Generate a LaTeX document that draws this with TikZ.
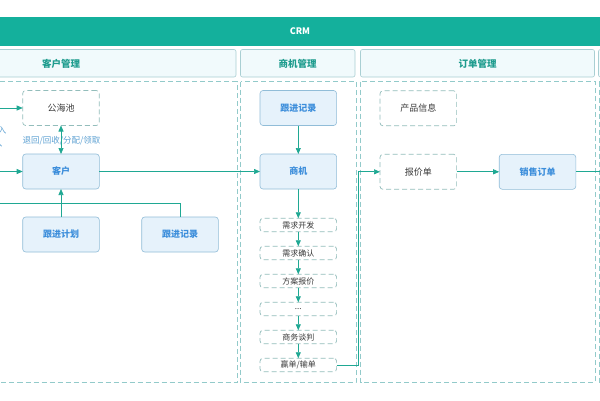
\documentclass[tikz,border=0pt]{standalone}
\usepackage{fontspec}
\setmainfont{Noto Sans CJK SC}
\usetikzlibrary{arrows.meta}
\definecolor{bar}{HTML}{14B09C}
\definecolor{hdrfill}{HTML}{F1FAFC}
\definecolor{hdrdraw}{HTML}{A9CFD3}
\definecolor{hdrtext}{HTML}{1E9C8E}
\definecolor{contdraw}{HTML}{92CACA}
\definecolor{sfill}{HTML}{E6F2FB}
\definecolor{sdraw}{HTML}{91BDD8}
\definecolor{stext}{HTML}{3C8EDB}
\definecolor{ddraw}{HTML}{93BDBB}
\definecolor{dtext}{HTML}{3A3A3A}
\definecolor{conn}{HTML}{1FA893}
\definecolor{lbl}{HTML}{5FA2D3}
\tikzset{
  hdr/.style={draw=hdrdraw, fill=hdrfill, rounded corners=2pt, line width=0.6pt},
  hdrtxt/.style={text=hdrtext, font=\fontsize{9.5}{11}\selectfont\bfseries},
  cont/.style={draw=contdraw, line width=0.7pt, dash pattern=on 5pt off 3pt},
  solidbox/.style={draw=sdraw, fill=sfill, rounded corners=3pt, line width=0.6pt,
    text=stext, font=\fontsize{9}{11}\selectfont\bfseries,
    minimum width=76.6pt, minimum height=35pt, inner sep=0pt, outer sep=0pt},
  dbox/.style={draw=ddraw, rounded corners=3pt, line width=0.7pt, dash pattern=on 5pt off 3pt,
    text=dtext, font=\fontsize{9}{11}\selectfont,
    minimum width=76.6pt, minimum height=35pt, inner sep=0pt, outer sep=0pt},
  sbox/.style={draw=ddraw, rounded corners=3pt, line width=0.7pt, dash pattern=on 5pt off 3pt,
    text=dtext, font=\fontsize{8}{9}\selectfont,
    minimum width=76.6pt, minimum height=13.5pt, inner sep=0pt, outer sep=0pt},
  conline/.style={draw=conn, line width=0.7pt},
  arr/.style={conline, -{Triangle[length=6pt,width=5pt]}},
  darr/.style={conline, {Triangle[length=6pt,width=5pt]}-{Triangle[length=6pt,width=5pt]}},
}
\begin{document}
\begin{tikzpicture}[x=1pt,y=-1pt]
\useasboundingbox[fill=white] (0,0) rectangle (600,400);
% top bar
\fill[bar] (-5,17) rectangle (605,45.5);
\node[text=white, font=\fontsize{9}{10}\selectfont\bfseries] (crm) at (300,31.3) {CRM};
% headers
\draw[hdr] (-60,49.5) rectangle (236,77);
\draw[hdr] (240.5,49.5) rectangle (355,77);
\draw[hdr] (360.5,49.5) rectangle (594.5,77);
\draw[hdr] (598.5,49.5) rectangle (700,77);
\node[hdrtxt] (h1) at (61,63.5) {客户管理};
\node[hdrtxt] (h2) at (297.5,63.5) {商机管理};
\node[hdrtxt] (h3) at (477.5,63.5) {订单管理};
% containers
\draw[cont] (-10,81.5) rectangle (237,382);
\draw[cont] (240.5,81.5) rectangle (356,382.5);
\draw[cont] (360.5,81.5) rectangle (595,382);
\draw[cont] (599,81.5) rectangle (700,382);
% left column
\node[dbox] (ghc) at (61,108) {公海池};
\node[solidbox] (kh) at (61,171.5) {客户};
\node[solidbox] (gjjh) at (61,234.5) {跟进计划};
\node[solidbox] (gjjlL) at (180,234.5) {跟进记录};
% middle column
\node[solidbox] (gjjlM) at (298.3,108) {跟进记录};
\node[solidbox] (sj) at (298.3,171.5) {商机};
\node[sbox] (s1) at (298.3,225) {需求开发};
\node[sbox] (s2) at (298.3,253) {需求确认};
\node[sbox] (s3) at (298.3,281) {方案报价};
\node[sbox] (s4) at (298.3,309) {...};
\node[sbox] (s5) at (298.3,337) {商务谈判};
\node[sbox] (s6) at (298.3,365) {赢单/输单};
% right column
\node[dbox] (cpxx) at (418.3,108.3) {产品信息};
\node[dbox] (bjd) at (418.3,171.8) {报价单};
\node[solidbox] (xsdd) at (537.5,171.8) {销售订单};
% cut-off labels at left (cut by the picture's edge, as in the reference)
\node[text=lbl, font=\fontsize{8.5}{9}\selectfont, anchor=east] (lr1) at (10,130) {录入};
\node[text=lbl, font=\fontsize{8.5}{9}\selectfont, anchor=east] (lr2) at (6,143) {导入};
\node[text=lbl, font=\fontsize{8.5}{9}\selectfont] (lab) at (61.5,141) {退回/回收/分配/领取};
% coordinates
\coordinate (inA) at (-5,108);
\coordinate (inB) at (-5,171.5);
\coordinate (inC) at (-5,203);
\coordinate (bend) at (358,365);
\coordinate (bend2) at (358,171.8);
\coordinate (outR) at (605,171.8);
% connectors
\draw[arr] (inA) -- (ghc.west);
\draw[arr] (inB) -- (kh.west);
\draw[darr] (ghc.south) -- (kh.north);
\draw[conline] (inC) -- (gjjlL.north |- inC) -- (gjjlL.north);
\draw[arr] (gjjh.north) -- (kh.south);
\draw[arr] (kh.east) -- (sj.west);
\draw[arr] (gjjlM.south) -- (sj.north);
\draw[arr] (sj.south) -- (s1.north);
\draw[arr] (s1.south) -- (s2.north);
\draw[arr] (s2.south) -- (s3.north);
\draw[arr] (s3.south) -- (s4.north);
\draw[arr] (s4.south) -- (s5.north);
\draw[arr] (s5.south) -- (s6.north);
\draw[arr] (s6.east) -- (bend) -- (bend2) -- (bjd.west);
\draw[arr] (bjd.east) -- (xsdd.west);
\draw[conline] (xsdd.east) -- (outR);
\end{tikzpicture}
\end{document}
